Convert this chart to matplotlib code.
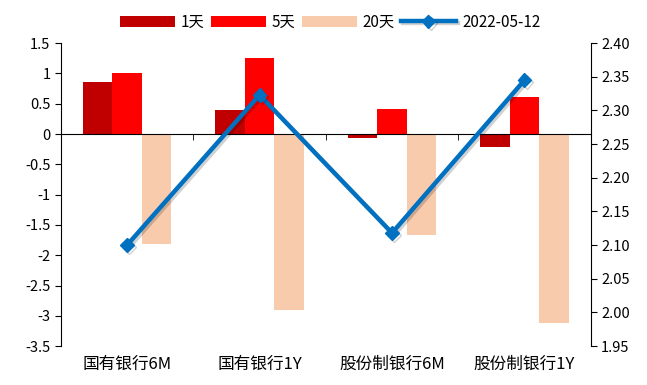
import matplotlib.pyplot as plt
import matplotlib.patheffects as pe
from matplotlib.ticker import FormatStrFormatter, FuncFormatter
import numpy as np

plt.rcParams['font.family'] = ['Noto Sans CJK SC', 'DejaVu Sans']

categories = ["国有银行6M", "国有银行1Y", "股份制银行6M", "股份制银行1Y"]
chg_1d = [0.86, 0.40, -0.06, -0.21]
chg_5d = [1.01, 1.26, 0.42, 0.61]
chg_20d = [-1.82, -2.91, -1.67, -3.12]
level = [2.10, 2.323, 2.118, 2.345]
series_names = ["1天", "5天", "20天", "2022-05-12"]


def main():
    fig = plt.figure(figsize=(6.47, 3.85), dpi=100)
    ax = fig.add_axes([0.094, 0.101, 0.819, 0.787])
    ax2 = ax.twinx()

    x = np.arange(len(categories))
    w = 0.222
    ax.bar(x - w, chg_1d, w, color="#C00000", label=series_names[0], zorder=2)
    ax.bar(x, chg_5d, w, color="#FF0000", label=series_names[1], zorder=2)
    ax.bar(x + w, chg_20d, w, color="#F8CBAD", label=series_names[2], zorder=2)

    ax2.plot(x, level, color="#0070C0", lw=3.2, marker="D", ms=7,
             label=series_names[3],
             path_effects=[pe.SimpleLineShadow(offset=(1.5, -1.5), alpha=0.18,
                                               shadow_color="black"),
                           pe.Normal()])

    ax.set_xlim(-0.5, len(categories) - 0.5)
    ax.set_ylim(-3.5, 1.5)
    ax.set_yticks(np.arange(-3.5, 1.51, 0.5))
    ax.yaxis.set_major_formatter(FuncFormatter(lambda v, p: f"{v:g}"))
    ax2.set_ylim(1.95, 2.40)
    ax2.set_yticks(np.arange(1.95, 2.401, 0.05))
    ax2.yaxis.set_major_formatter(FormatStrFormatter("%.2f"))

    for a in (ax, ax2):
        a.spines["top"].set_visible(False)
    ax2.spines["bottom"].set_visible(False)
    ax2.spines["left"].set_visible(False)
    ax.spines["right"].set_visible(False)
    ax.spines["bottom"].set_position(("data", 0))
    ax.spines["bottom"].set_zorder(3)

    ax.set_xticks(x, categories, fontsize=12)
    ax.set_xticks(np.arange(0.5, len(categories) - 1, 1), minor=True)
    ax.tick_params(axis="x", which="major", length=0, pad=160)
    ax.tick_params(axis="x", which="minor", length=4, direction="out")
    ax.tick_params(axis="y", length=4, labelsize=10.5)
    ax2.tick_params(axis="y", length=4, labelsize=10.5)

    h1, l1 = ax.get_legend_handles_labels()
    h2, l2 = ax2.get_legend_handles_labels()
    fig.legend(h1 + h2, l1 + l2, loc="upper center", bbox_to_anchor=(0.51, 1.0),
               ncol=4, frameon=False, fontsize=11, handlelength=3.6,
               handleheight=0.7, columnspacing=0.4, handletextpad=0.4)

    fig.savefig("out.png", dpi=100)


if __name__ == "__main__":
    main()
